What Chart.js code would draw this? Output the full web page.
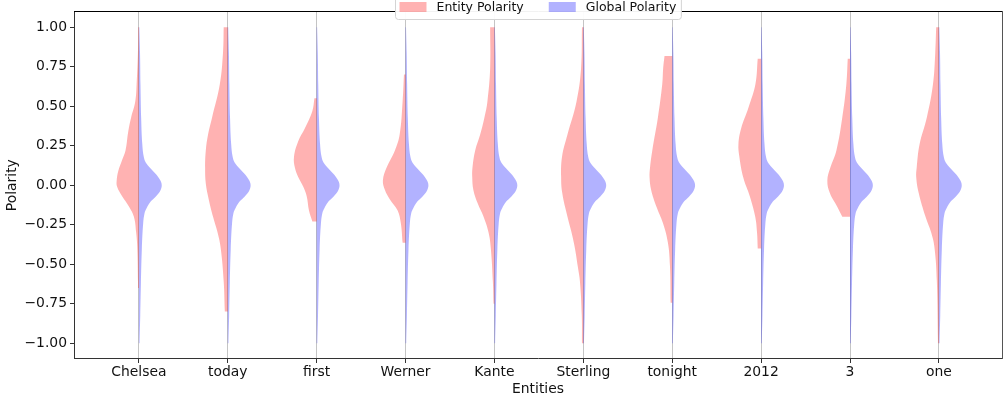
<!DOCTYPE html>
<html>
<head>
<meta charset="utf-8">
<script src="https://cdn.jsdelivr.net/npm/chart.js@4.4.1/dist/chart.umd.min.js"></script>
<style>
  html, body { margin: 0; padding: 0; background: #ffffff; }
  canvas { display: block; }
</style>
</head>
<body>
<canvas id="chart" width="1003" height="398"></canvas>
<script>
// Categories and labels
const entities = ['Chelsea', 'today', 'first', 'Werner', 'Kante', 'Sterling', 'tonight', '2012', '3', 'one'];
const seriesNames = ['Entity Polarity', 'Global Polarity'];
const seriesColors = ['rgba(255, 0, 0, 0.3)', 'rgba(0, 0, 255, 0.3)'];
const polarityTicks = [-1, -0.75, -0.5, -0.25, 0, 0.25, 0.5, 0.75, 1];

// Kernel density of sentence polarity, as [polarity, relative density]
// (first and last rows are the lowest / highest observed polarity)
const chelseaDensity = [[1.0, 0.03], [0.85, 0.04], [0.64, 0.10], [0.53, 0.16], [0.43, 0.34], [0.34, 0.47], [0.22, 0.59], [0.16, 0.74], [0.09, 0.91], [0.03, 0.98], [-0.01, 0.96], [-0.07, 0.74], [-0.135, 0.44], [-0.2, 0.22], [-0.3, 0.12], [-0.4, 0.07], [-0.61, 0.04], [-0.65, 0.04]];
const todayDensity = [[1.0, 0.18], [0.84, 0.21], [0.64, 0.35], [0.43, 0.69], [0.32, 0.87], [0.22, 0.97], [0.11, 1.0], [0.01, 0.97], [-0.09, 0.84], [-0.2, 0.65], [-0.3, 0.45], [-0.4, 0.31], [-0.61, 0.18], [-0.8, 0.13]];
const firstDensity = [[0.55, 0.10], [0.47, 0.19], [0.36, 0.52], [0.28, 0.81], [0.18, 1.0], [0.11, 0.96], [0.05, 0.81], [-0.01, 0.59], [-0.07, 0.44], [-0.16, 0.34], [-0.23, 0.19]];
const wernerDensity = [[0.70, 0.07], [0.53, 0.13], [0.32, 0.26], [0.22, 0.47], [0.11, 0.84], [0.03, 1.0], [-0.03, 0.91], [-0.09, 0.69], [-0.16, 0.35], [-0.24, 0.21], [-0.365, 0.13]];
const kanteDensity = [[1.0, 0.19], [0.74, 0.19], [0.53, 0.31], [0.43, 0.44], [0.32, 0.63], [0.22, 0.85], [0.11, 0.97], [0.05, 0.98], [-0.03, 0.93], [-0.115, 0.74], [-0.2, 0.48], [-0.3, 0.26], [-0.4, 0.16], [-0.61, 0.07], [-0.75, 0.04]];
const sterlingDensity = [[1.0, 0.06], [0.74, 0.10], [0.53, 0.30], [0.32, 0.70], [0.18, 0.94], [0.05, 0.98], [-0.05, 0.93], [-0.2, 0.70], [-0.3, 0.52], [-0.4, 0.37], [-0.51, 0.25], [-0.61, 0.15], [-0.82, 0.07], [-1.0, 0.06]];
const tonightDensity = [[0.817, 0.34], [0.74, 0.40], [0.64, 0.44], [0.43, 0.63], [0.22, 0.88], [0.11, 0.98], [0.05, 1.0], [-0.03, 0.93], [-0.135, 0.70], [-0.24, 0.41], [-0.365, 0.19], [-0.51, 0.10], [-0.744, 0.07]];
const y2012Density = [[0.80, 0.15], [0.64, 0.25], [0.49, 0.56], [0.36, 0.88], [0.26, 1.0], [0.18, 0.96], [0.05, 0.79], [-0.07, 0.50], [-0.2, 0.26], [-0.3, 0.18], [-0.4, 0.15]];
const threeDensity = [[0.80, 0.10], [0.64, 0.16], [0.43, 0.34], [0.22, 0.60], [0.11, 0.87], [0.03, 1.0], [-0.05, 0.89], [-0.135, 0.57], [-0.2, 0.34]];
const oneDensity = [[1.0, 0.12], [0.84, 0.16], [0.64, 0.26], [0.43, 0.53], [0.26, 0.85], [0.11, 0.98], [0.05, 1.0], [-0.05, 0.89], [-0.2, 0.59], [-0.3, 0.34], [-0.4, 0.19], [-0.61, 0.09], [-1.0, 0.04]];
const globalDensity = [[1.0, 0.02], [0.84, 0.05], [0.635, 0.07], [0.427, 0.10], [0.26, 0.15], [0.177, 0.22], [0.135, 0.34], [0.094, 0.59], [0.052, 0.85], [0.01, 1.0], [-0.031, 0.96], [-0.073, 0.74], [-0.104, 0.52], [-0.146, 0.34], [-0.177, 0.25], [-0.24, 0.19], [-0.406, 0.13], [-0.615, 0.09], [-0.823, 0.06], [-1.0, 0.03]];

const entityDensities = [chelseaDensity, todayDensity, firstDensity, wernerDensity, kanteDensity,
  sterlingDensity, tonightDensity, y2012Density, threeDensity, oneDensity];

// Widest half-violin, in category units
const HALF_WIDTH = 0.255;

// Outline of one half of a split violin: down the centre line, out along the density profile.
// Corner points are repeated so the curve keeps the flat cut edges straight.
function halfViolin(center, profile, side) {
  const rows = profile.slice().sort((a, b) => a[0] - b[0]);
  const lo = rows[0][0];
  const hi = rows[rows.length - 1][0];
  const pts = [{ x: center, y: lo }];
  rows.forEach(([y, d], k) => {
    const p = { x: center + side * d * HALF_WIDTH, y: y };
    pts.push(p);
    if (k === 0 || k === rows.length - 1) pts.push({ x: p.x, y: p.y });
  });
  pts.push({ x: center, y: hi });
  return pts;
}

const datasets = [];
entities.forEach((name, i) => {
  datasets.push({
    label: seriesNames[0],
    data: halfViolin(i, entityDensities[i], -1),
    backgroundColor: seriesColors[0]
  });
  datasets.push({
    label: seriesNames[1],
    data: halfViolin(i, globalDensity, 1),
    backgroundColor: seriesColors[1]
  });
});

const FONT = 'DejaVu Sans';
const TEXT = '#111111';
const AXIS_LINE = '#333333';

// Framed legend centred over the plot's top edge
const framedLegend = {
  id: 'framedLegend',
  afterDraw(chart) {
    const ctx = chart.ctx;
    const area = chart.chartArea;
    ctx.save();
    ctx.font = '12.5px "' + FONT + '"';
    const sw = 27, sh = 10, gapText = 10, gapItem = 25, padL = 4, padR = 5;
    const widths = seriesNames.map(t => ctx.measureText(t).width);
    const total = padL + padR + 2 * (sw + gapText) + widths[0] + widths[1] + gapItem;
    const left = Math.round((area.left + area.right) / 2 - total / 2) + 0.5;
    const top = -6.5, bottom = 19.5;
    // frame
    const r = 3;
    ctx.beginPath();
    ctx.moveTo(left + r, top);
    ctx.lineTo(left + total - r, top);
    ctx.arcTo(left + total, top, left + total, top + r, r);
    ctx.lineTo(left + total, bottom - r);
    ctx.arcTo(left + total, bottom, left + total - r, bottom, r);
    ctx.lineTo(left + r, bottom);
    ctx.arcTo(left, bottom, left, bottom - r, r);
    ctx.lineTo(left, top + r);
    ctx.arcTo(left, top, left + r, top, r);
    ctx.closePath();
    ctx.fillStyle = 'rgba(255,255,255,0.95)';
    ctx.fill();
    ctx.strokeStyle = '#d4d4d4';
    ctx.lineWidth = 1;
    ctx.stroke();
    // items
    let x = left + padL;
    const cy = 7;
    ctx.textBaseline = 'middle';
    ctx.textAlign = 'left';
    seriesNames.forEach((name, k) => {
      ctx.fillStyle = seriesColors[k];
      ctx.fillRect(x, cy - 5, sw, sh);
      x += sw + gapText;
      ctx.fillStyle = TEXT;
      ctx.fillText(name, x, cy + 0.5);
      x += widths[k] + gapItem;
    });
    ctx.restore();
  }
};

new Chart(document.getElementById('chart'), {
  type: 'line',
  data: { datasets },
  plugins: [framedLegend],
  options: {
    responsive: false,
    animation: false,
    events: [],
    layout: { padding: { left: 0, right: 1, top: 7, bottom: 0 } },
    elements: {
      line: { tension: 0.4, borderWidth: 0, borderColor: 'rgba(0,0,0,0)', fill: 'shape' },
      point: { radius: 0, hoverRadius: 0 }
    },
    plugins: {
      legend: { display: false },
      tooltip: { enabled: false }
    },
    scales: {
      x: {
        type: 'linear',
        position: 'bottom',
        min: -0.73,
        max: 9.71,
        afterBuildTicks: (s) => { s.ticks = entities.map((_, i) => ({ value: i })); },
        afterFit: (s) => { s.height = 39; },
        ticks: {
          callback: (v) => entities[v],
          font: { family: FONT, size: 13.9 },
          color: TEXT,
          padding: 1,
          maxRotation: 0,
          autoSkip: false
        },
        grid: { color: '#c4c4c4', lineWidth: 1, tickColor: AXIS_LINE, tickLength: 4 },
        border: { color: AXIS_LINE, width: 1 },
        title: { display: true, text: 'Entities', font: { family: FONT, size: 13.9 }, color: TEXT, padding: 0 }
      },
      y: {
        type: 'linear',
        position: 'left',
        min: -1.1,
        max: 1.1,
        afterBuildTicks: (s) => { s.ticks = polarityTicks.map(v => ({ value: v })); },
        afterFit: (s) => { s.width = 74; },
        ticks: {
          callback: (v) => v.toFixed(2).replace('-', '\u2212'),
          font: { family: FONT, size: 13.9 },
          color: TEXT,
          padding: 3,
          autoSkip: false
        },
        grid: { drawOnChartArea: false, tickColor: AXIS_LINE, tickLength: 4 },
        border: { color: AXIS_LINE, width: 1 },
        title: { display: true, text: 'Polarity', font: { family: FONT, size: 13.9 }, color: TEXT, padding: { top: 4, bottom: 0 } }
      },
      x2: {
        type: 'linear',
        position: 'top',
        min: -0.73,
        max: 9.71,
        ticks: { display: false },
        grid: { display: false, drawTicks: false },
        border: { color: '#000000', width: 1 },
        afterFit: (s) => { s.height = 0; }
      },
      y2: {
        type: 'linear',
        position: 'right',
        min: -1.1,
        max: 1.1,
        ticks: { display: false },
        grid: { display: false, drawTicks: false },
        border: { color: '#555555', width: 1 },
        afterFit: (s) => { s.width = 0; }
      }
    }
  }
});
</script>
</body>
</html>
